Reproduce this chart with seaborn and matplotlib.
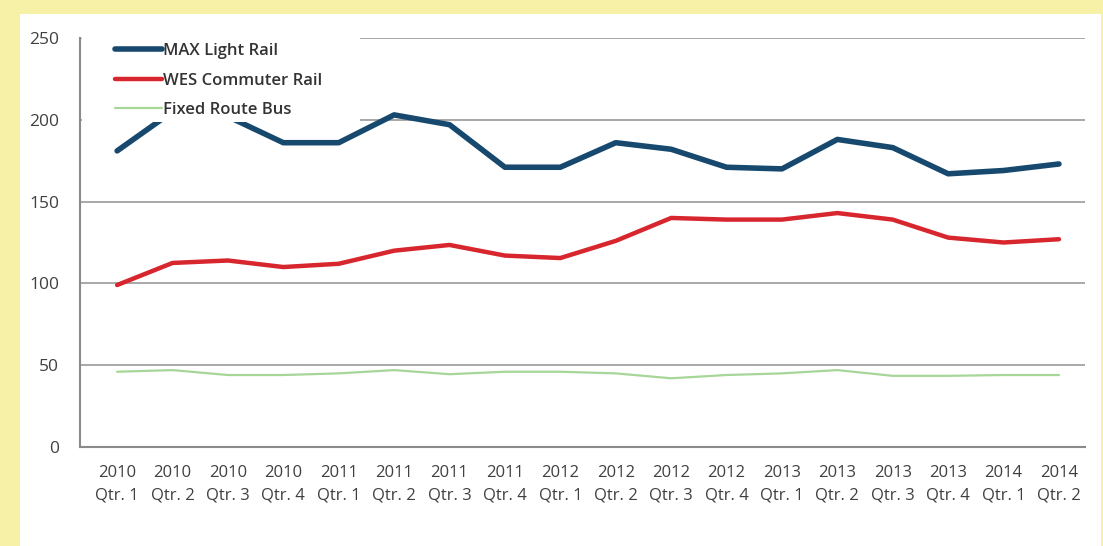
import numpy as np
import pandas as pd
import seaborn as sns
import matplotlib
import matplotlib.pyplot as plt
from matplotlib.patches import Rectangle

# Quarterly values
quarters = ["2010\nQtr. 1", "2010\nQtr. 2", "2010\nQtr. 3", "2010\nQtr. 4",
            "2011\nQtr. 1", "2011\nQtr. 2", "2011\nQtr. 3", "2011\nQtr. 4",
            "2012\nQtr. 1", "2012\nQtr. 2", "2012\nQtr. 3", "2012\nQtr. 4",
            "2013\nQtr. 1", "2013\nQtr. 2", "2013\nQtr. 3", "2013\nQtr. 4",
            "2014\nQtr. 1", "2014\nQtr. 2"]
max_rail = [181, 205, 202, 186, 186, 203, 197, 171, 171, 186, 182, 171,
            170, 188, 183, 167, 169, 173]
wes_rail = [99, 112.5, 114, 110, 112, 120, 123.5, 117, 115.5, 126, 140, 139,
            139, 143, 139, 128, 125, 127]
bus = [46, 47, 44, 44, 45, 47, 44.5, 46, 46, 45, 42, 44,
       45, 47, 43.5, 43.5, 44, 44]
series_names = ["MAX Light Rail", "WES Commuter Rail", "Fixed Route Bus"]
colors = ["#17496f", "#d8262e", "#a6d698"]
widths = [4.0, 3.2, 1.6]

df = pd.DataFrame({
  "x": list(range(len(quarters))) * 3,
  "value": max_rail + wes_rail + bus,
  "series": np.repeat(series_names, len(quarters)),
})

sns.set_theme(style="white")
plt.rcParams['font.family'] = ['Open Sans', 'DejaVu Sans']

fig = plt.figure(figsize=(11.03, 5.46), dpi=100, facecolor="#f6f1a6")
# white panel of the scanned page
fig.patches.append(Rectangle((20/1103, 0), 1 - 22/1103, 1 - 14/546,
                             transform=fig.transFigure, facecolor="white",
                             edgecolor="none", zorder=-10))
ax = fig.add_axes([80/1103, 1 - 447/546, 1005/1103, 409/546])
ax.set_facecolor("white")

sns.lineplot(data=df, x="x", y="value", hue="series", palette=colors,
             hue_order=series_names, ax=ax, legend=False)
for line, w in zip(ax.get_lines(), widths):
  line.set_linewidth(w)
  line.set_solid_capstyle("round")
  line.set_zorder(3)

ax.set_ylim(0, 250)
ax.set_xlim(-0.67, 17.47)
ax.set_yticks([0, 50, 100, 150, 200, 250])
ax.set_xticks(range(len(quarters)))
ax.set_xticklabels(quarters, linespacing=1.5)
ax.tick_params(axis="both", labelsize=12, colors="#404040", length=0)
ax.tick_params(axis="y", pad=15, labelsize=12.5)
ax.tick_params(axis="x", pad=13)
ax.set_xlabel("")
ax.set_ylabel("")
ax.yaxis.grid(True, color="#9a9a9a", linewidth=1.2)
ax.set_axisbelow(True)
for side in ["top", "right"]:
  ax.spines[side].set_visible(False)
ax.spines["left"].set_color("#8a8a8a")
ax.spines["bottom"].set_color("#8a8a8a")
ax.spines["left"].set_linewidth(1.5)
ax.spines["bottom"].set_linewidth(1.5)

# white legend area, it hides the gridlines and part of the MAX line
ax.add_patch(Rectangle((2/1005, (447-122)/409), (360-82)/1005, (122-26)/409,
                       transform=ax.transAxes, facecolor="white",
                       edgecolor="none", zorder=4, clip_on=False))

handles = [matplotlib.lines.Line2D([], [], color=c, lw=w)
           for c, w in zip(colors, widths)]
leg = ax.legend(handles, series_names, loc="upper left",
                bbox_to_anchor=(0.035, 0.987), frameon=False,
                fontsize=12, handlelength=2.8, handletextpad=0.05,
                labelspacing=0.8, borderpad=0, borderaxespad=0)
leg.set_zorder(5)
for t in leg.get_texts():
  t.set_color("#333333")
  t.set_fontweight("semibold")

fig.savefig("out.png", dpi=100, facecolor=fig.get_facecolor())
